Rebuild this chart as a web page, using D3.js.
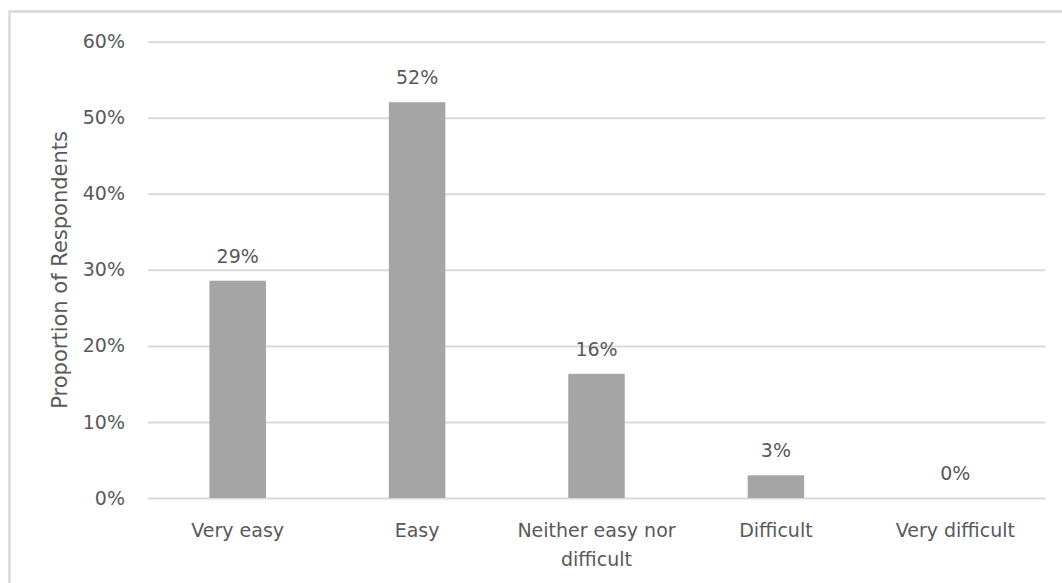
<!DOCTYPE html>
<html>
<head>
<meta charset="utf-8">
<script src="https://cdn.jsdelivr.net/npm/d3@7"></script>
<style>
  html, body { margin: 0; padding: 0; background: #ffffff; }
  svg { display: block; }
  text { font-family: "DejaVu Sans", sans-serif; fill: #595959; }
</style>
</head>
<body>
<svg id="chart" width="1062" height="583"></svg>
<script>
const categories = ["Very easy", "Easy", "Neither easy nor difficult", "Difficult", "Very difficult"];
const values = [0.2857, 0.5204, 0.1633, 0.0298, 0.0];
const valueLabels = ["29%", "52%", "16%", "3%", "0%"];
const yTicks = [0, 0.1, 0.2, 0.3, 0.4, 0.5, 0.6];
const yTitle = "Proportion of Respondents";

(function draw() {
const svg = d3.select("#chart");
const W = 1062, H = 583;
const plotLeft = 148, plotRight = 1045, plotTop = 41.7, plotBottom = 498;

// outer chart border (cut off on the right/bottom)
svg.append("rect")
  .attr("x", 9.5).attr("y", 11.5)
  .attr("width", W + 20).attr("height", H + 20)
  .attr("fill", "none").attr("stroke", "#d9d9d9").attr("stroke-width", 2.5);

const x = d3.scaleBand().domain(categories).range([plotLeft, plotRight])
  .paddingInner(0.685).paddingOuter(0.3425);
const y = d3.scaleLinear().domain([0, 0.6]).range([plotBottom, plotTop]);

// gridlines + tick labels
const yAxis = d3.axisLeft(y).tickValues(yTicks).tickFormat(d3.format(".0%"))
  .tickSize(-(plotRight - plotLeft)).tickPadding(23);
const gy = svg.append("g").attr("transform", `translate(${plotLeft},0)`).call(yAxis);
gy.select(".domain").remove();
gy.selectAll(".tick line").attr("stroke", "#d9d9d9").attr("stroke-width", 2);
gy.selectAll(".tick text").attr("font-size", 19).attr("fill", "#595959")
  .style("font-family", '"DejaVu Sans", sans-serif');

// bars
svg.append("g").selectAll("rect").data(values).join("rect")
  .attr("x", (d, i) => x(categories[i]))
  .attr("width", x.bandwidth())
  .attr("y", d => y(d))
  .attr("height", d => y(0) - y(d))
  .attr("fill", "#a5a5a5");

// data labels
svg.append("g").selectAll("text").data(values).join("text")
  .attr("x", (d, i) => x(categories[i]) + x.bandwidth() / 2)
  .attr("y", d => y(d) - 18)
  .attr("text-anchor", "middle")
  .attr("font-size", 19)
  .attr("fill", "#404040")
  .text((d, i) => valueLabels[i]);

// x category labels (wrapped)
const xAxis = d3.axisBottom(x).tickSize(0).tickPadding(0);
const gx = svg.append("g").attr("transform", `translate(0,${plotBottom})`).call(xAxis);
gx.select(".domain").remove();
gx.selectAll(".tick text")
  .attr("font-size", 19).attr("fill", "#595959")
  .style("font-family", '"DejaVu Sans", sans-serif')
  .attr("y", 39).attr("dy", 0)
  .each(function(t) {
    const el = d3.select(this);
    const words = t.split(" ");
    el.text(null);
    let line = [];
    let lineNo = 0;
    let tspan = el.append("tspan").attr("x", 0).attr("y", 39);
    for (const w of words) {
      line.push(w);
      tspan.text(line.join(" "));
      if (tspan.node().getComputedTextLength() > 170 && line.length > 1) {
        line.pop();
        tspan.text(line.join(" "));
        line = [w];
        lineNo++;
        tspan = el.append("tspan").attr("x", 0).attr("y", 39 + lineNo * 29).text(w);
      }
    }
  });

// y axis title
svg.append("text")
  .attr("transform", `translate(67,${(plotTop + plotBottom) / 2}) rotate(-90)`)
  .attr("text-anchor", "middle")
  .attr("font-size", 21)
  .attr("fill", "#595959")
  .text(yTitle);
})();
</script>
</body>
</html>
